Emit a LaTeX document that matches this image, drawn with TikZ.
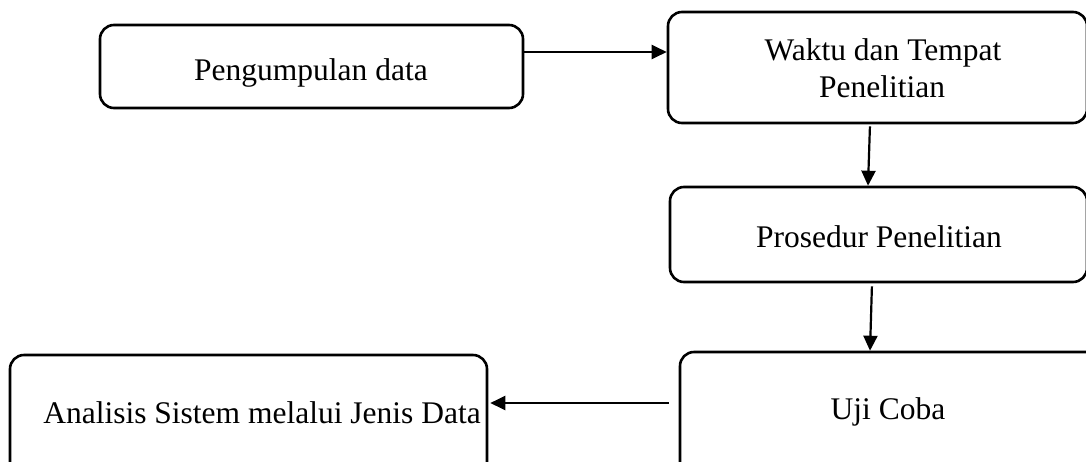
\documentclass[tikz,border=0pt]{standalone}
\usepackage{fontspec}
\setmainfont{Liberation Serif}
\usetikzlibrary{arrows.meta}
\tikzset{
  stepbox/.style={draw, line width=2.6pt, rounded corners=14pt, rectangle, inner sep=0pt},
  lbl/.style={anchor=base, inner sep=0pt, font=\fontsize{31.5}{37}\selectfont},
  arr/.style={line width=2.2pt, -{Triangle[length=15pt,width=14pt]}}
}
\begin{document}
\begin{tikzpicture}[x=1pt,y=-1pt]
\useasboundingbox (0,0) rectangle (1086,461);
\clip (0,0) rectangle (1086,461);
% boxes
\node[stepbox, minimum width=423pt, minimum height=83pt] (A) at (311.5,66.5) {};
\node[stepbox, minimum width=419pt, minimum height=111pt] (B) at (877.5,67.5) {};
\node[stepbox, minimum width=417pt, minimum height=95pt] (C) at (878.5,234.5) {};
\node[stepbox, minimum width=420pt, minimum height=128pt] (D) at (890,416) {};
\node[stepbox, minimum width=477pt, minimum height=125pt] (E) at (248.5,417.5) {};
% labels
\node[lbl] (tA) at (311,80) {Pengumpulan data};
\node[lbl] (tB1) at (883,60) {Waktu dan Tempat};
\node[lbl] (tB2) at (882,97) {Penelitian};
\node[lbl] (tC) at (879,247) {Prosedur Penelitian};
\node[lbl] (tD) at (888,419) {Uji Coba};
\node[lbl] (tE) at (262,423) {Analisis Sistem melalui Jenis Data};
% connectors
\coordinate (ab) at (0,52);
\draw[arr] (A.east |- ab) -- (B.west |- ab);
\coordinate (bc1) at (870,0);
\coordinate (bc2) at (868,0);
\draw[arr, shorten <=2pt] (B.south -| bc1) -- (C.north -| bc2);
\coordinate (cd1) at (872,0);
\coordinate (cd2) at (870,0);
\draw[arr, shorten <=3pt] (C.south -| cd1) -- (D.north -| cd2);
\coordinate (de) at (0,403);
\draw[arr, shorten <=10pt, shorten >=2pt] (D.west |- de) -- (E.east |- de);
\end{tikzpicture}
\end{document}
